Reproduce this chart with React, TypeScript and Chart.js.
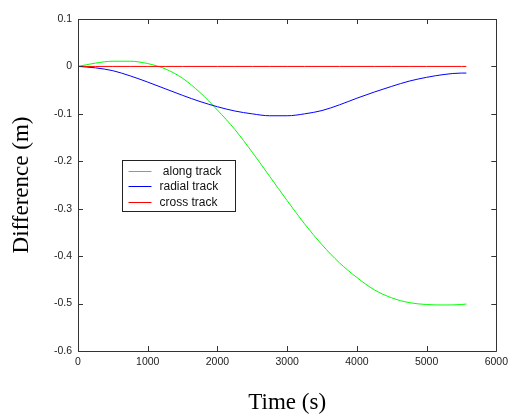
import React, { useEffect, useRef } from "react";
import { Chart, registerables } from "chart.js";

Chart.register(...registerables);

const timeS = [0, 250, 500, 750, 1000, 1250, 1500, 1750, 2000, 2250, 2500, 2750, 3000, 3250, 3500, 3750, 4000, 4250, 4500, 4750, 5000, 5250, 5500, 5570];
const alongTrack = [0, 0.007, 0.011, 0.011, 0.006, -0.005, -0.025, -0.055, -0.092, -0.133, -0.181, -0.232, -0.283, -0.332, -0.376, -0.414, -0.445, -0.471, -0.488, -0.498, -0.502, -0.503, -0.502, -0.501];
const radialTrack = [0, -0.003, -0.009, -0.02, -0.033, -0.047, -0.061, -0.074, -0.085, -0.094, -0.1, -0.104, -0.104, -0.1, -0.093, -0.081, -0.067, -0.054, -0.042, -0.031, -0.023, -0.017, -0.014, -0.014];
const crossTrack = [0, 0, 0, 0, 0, 0, 0, 0, 0, 0, 0, 0, 0, 0, 0, 0, 0, 0, 0, 0, 0, 0, 0, 0];

const seriesLabels = [" along track", "radial track", "cross track"];
const seriesColors = ["#00ff00", "#0000ff", "#ff0000"];

const xTickMin = 0;
const xTickMax = 6000;
const xTickStep = 1000;
const yTickMin = -0.6;
const yTickMax = 0.1;
const yTickStep = 0.1;

const xTitle = "Time (s)";
const yTitle = "Difference (m)";

const framePlugin = {
  id: "matlabFrame",
  afterDraw(chart: any) {
    const { ctx, chartArea } = chart;
    const { left, right, top, bottom } = chartArea;
    const xs = chart.scales.x;
    const ys = chart.scales.y;
    const tl = 5;
    ctx.save();
    ctx.strokeStyle = "#333";
    ctx.lineWidth = 1;
    ctx.beginPath();
    ctx.rect(Math.round(left) + 0.5, Math.round(top) + 0.5, Math.round(right - left), Math.round(bottom - top));
    ctx.stroke();
    ctx.beginPath();
    xs.ticks.forEach((t: any) => {
      const px = Math.round(xs.getPixelForValue(t.value)) + 0.5;
      ctx.moveTo(px, bottom);
      ctx.lineTo(px, bottom - tl);
      ctx.moveTo(px, top);
      ctx.lineTo(px, top + tl);
    });
    ys.ticks.forEach((t: any) => {
      const py = Math.round(ys.getPixelForValue(t.value)) + 0.5;
      ctx.moveTo(left, py);
      ctx.lineTo(left + tl, py);
      ctx.moveTo(right, py);
      ctx.lineTo(right - tl, py);
    });
    ctx.stroke();

    // legend box
    const bx = Math.round(left) + 44.5;
    const by = Math.round(top) + 141.5;
    const bw = 113;
    const bh = 51;
    ctx.fillStyle = "#fff";
    ctx.fillRect(bx, by, bw, bh);
    ctx.strokeStyle = "#222";
    ctx.lineWidth = 1;
    ctx.strokeRect(bx, by, bw, bh);
    ctx.font = "12px 'Liberation Sans', Arial, sans-serif";
    ctx.textBaseline = "middle";
    ctx.textAlign = "left";
    chart.data.datasets.forEach((ds: any, i: number) => {
      const cy = Math.round(by + 10 + i * 15.5) + 0.5;
      ctx.beginPath();
      ctx.strokeStyle = seriesColors[i];
      ctx.lineWidth = 1;
      ctx.moveTo(bx + 6, cy);
      ctx.lineTo(bx + 29, cy);
      ctx.stroke();
      ctx.fillStyle = "#111";
      ctx.fillText(ds.label, bx + 37, cy);
    });
    ctx.restore();
  },
};

export default function App() {
  const ref = useRef<HTMLCanvasElement | null>(null);
  useEffect(() => {
    if (!ref.current) return;
    const seriesValues = [alongTrack, radialTrack, crossTrack];
    const chart = new Chart(ref.current, {
      type: "line",
      data: {
        datasets: seriesValues.map((vals, i) => ({
          label: seriesLabels[i],
          data: timeS.map((t, j) => ({ x: t, y: vals[j] })),
          borderColor: seriesColors[i],
          backgroundColor: seriesColors[i],
          borderWidth: 1,
          pointRadius: 0,
          cubicInterpolationMode: "monotone",
          fill: false,
          order: 3 - i,
        })),
      },
      options: {
        responsive: false,
        animation: false,
        devicePixelRatio: 1,
        layout: { padding: { top: 19, right: 14, left: 0, bottom: 0 } },
        plugins: { legend: { display: false }, tooltip: { enabled: false } },
        scales: {
          x: {
            type: "linear",
            min: xTickMin,
            max: xTickMax,
            grid: { display: false, drawTicks: false },
            border: { display: false },
            ticks: {
              stepSize: xTickStep,
              padding: 5,
              color: "#222",
              font: { family: "'Liberation Sans', Arial, sans-serif", size: 10.5 },
              maxRotation: 0,
              callback: (v: any) => String(v),
            },
            title: {
              display: true,
              text: xTitle,
              color: "#000",
              font: { family: "'Liberation Serif', 'Times New Roman', serif", size: 23, lineHeight: 1 },
              padding: { top: 0, bottom: 0 },
            },
            afterFit: (s: any) => {
              s.height = 63;
            },
          },
          y: {
            type: "linear",
            min: yTickMin,
            max: yTickMax,
            grid: { display: false, drawTicks: false },
            border: { display: false },
            ticks: {
              stepSize: yTickStep,
              padding: 6,
              color: "#222",
              font: { family: "'Liberation Sans', Arial, sans-serif", size: 10.5 },
              callback: (v: any) => String(Number(Number(v).toFixed(1))),
            },
            title: {
              display: true,
              text: yTitle,
              color: "#000",
              font: { family: "'Liberation Serif', 'Times New Roman', serif", size: 23, lineHeight: 1 },
              padding: { top: 10, bottom: 0 },
            },
            afterFit: (s: any) => {
              s.width = 78;
            },
          },
        },
      },
      plugins: [framePlugin],
    } as any);
    return () => chart.destroy();
  }, []);
  return (
    <div style={{ position: "absolute", left: 0, top: 0, width: 513, height: 414, background: "#fff" }}>
      <canvas ref={ref} width={513} height={414} />
    </div>
  );
}
